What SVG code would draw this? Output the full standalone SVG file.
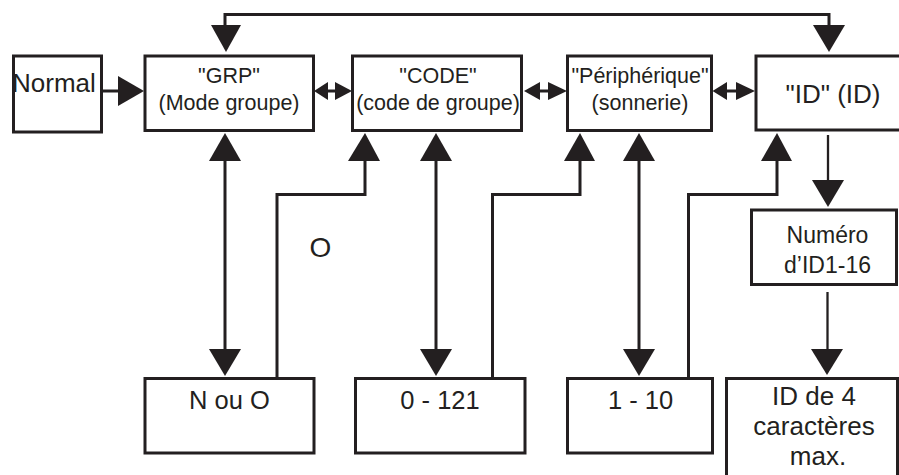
<svg xmlns="http://www.w3.org/2000/svg" width="899" height="475" viewBox="0 0 899 475">
<style>
.box{fill:#fff;stroke:#231f20;stroke-width:3}
.ln{fill:none;stroke:#231f20;stroke-width:3}
.thin{fill:none;stroke:#231f20;stroke-width:2.3}
.ah{fill:#231f20}
text{font-family:"Liberation Sans",Arial,Helvetica,sans-serif;fill:#231f20;text-anchor:middle}
.s{font-size:21.5px}
.m{font-size:25.5px}
.l{font-size:26px}
</style>
<rect width="899" height="475" fill="#fff"/>
<g id="connectors">
  <!-- Normal -> GRP -->
  <line class="ln" x1="102" y1="91" x2="120" y2="91"/>
  <polygon class="ah" points="118,76 144,91 118,106"/>
  <!-- GRP <-> CODE -->
  <line class="ln" x1="326" y1="91" x2="337" y2="91"/>
  <polygon class="ah" points="314,91 328,82 328,100"/>
  <polygon class="ah" points="352,91 335,82 335,100"/>
  <!-- CODE <-> Peripherique -->
  <line class="ln" x1="538" y1="91" x2="550" y2="91"/>
  <polygon class="ah" points="524,91 540,82 540,100"/>
  <polygon class="ah" points="567,91 548,82 548,100"/>
  <!-- Peripherique <-> ID -->
  <line class="ln" x1="725" y1="91" x2="738" y2="91"/>
  <polygon class="ah" points="712.5,91 727,82 727,100"/>
  <polygon class="ah" points="755,91 736,82 736,100"/>
  <!-- top feedback ID -> GRP / ID -->
  <polyline class="ln" points="225,27 225,14.5 829,14.5 829,27"/>
  <polygon class="ah" points="211,25 241,25 226,52"/>
  <polygon class="ah" points="813,25 845,25 829,52"/>
  <!-- GRP <-> N ou O -->
  <line class="ln" x1="225" y1="159" x2="225" y2="351"/>
  <polygon class="ah" points="225,133 241,161 209,161"/>
  <polygon class="ah" points="209,349 241,349 225,376"/>
  <!-- N ou O -> CODE (O) -->
  <polyline class="ln" points="277,377 277,194.5 365,194.5 365,159"/>
  <polygon class="ah" points="365,133 380,161 348,161"/>
  <!-- CODE <-> 0-121 -->
  <line class="ln" x1="436" y1="159" x2="436" y2="351"/>
  <polygon class="ah" points="436,133 452,161 420,161"/>
  <polygon class="ah" points="420,349 452,349 436,376"/>
  <!-- 0-121 -> Peripherique -->
  <polyline class="ln" points="492.5,377 492.5,194.5 580,194.5 580,159"/>
  <polygon class="ah" points="580,133 595,161 564,161"/>
  <!-- Peripherique <-> 1-10 -->
  <line class="ln" x1="639" y1="159" x2="639" y2="351"/>
  <polygon class="ah" points="639,133 655,161 623,161"/>
  <polygon class="ah" points="623,349 655,349 639,376"/>
  <!-- 1-10 -> ID -->
  <polyline class="ln" points="688.5,377 688.5,194.5 777,194.5 777,159"/>
  <polygon class="ah" points="777,133 792,161 761,161"/>
  <!-- ID -> Numero -->
  <line class="thin" x1="828" y1="135" x2="828" y2="182"/>
  <polygon class="ah" points="812,180 844,180 828,207"/>
  <!-- Numero -> ID de 4 -->
  <line class="thin" x1="827.5" y1="292" x2="827.5" y2="351"/>
  <polygon class="ah" points="811,349 843,349 827,375"/>
</g>
<g id="normal">
  <rect class="box" x="13.5" y="56" width="88" height="76"/>
  <text class="l" x="12" y="92" style="text-anchor:start">Normal</text>
</g>
<g id="grp">
  <rect class="box" x="145" y="56" width="168.5" height="74.5"/>
  <text class="s" x="229" y="83">"GRP"</text>
  <text class="s" x="229" y="110">(Mode groupe)</text>
</g>
<g id="code">
  <rect class="box" x="352.5" y="56" width="169" height="74.5"/>
  <text class="s" x="438" y="83">"CODE"</text>
  <text class="s" x="438" y="110">(code de groupe)</text>
</g>
<g id="peripherique">
  <rect class="box" x="567.5" y="56" width="144" height="74.5"/>
  <text class="s" x="640" y="83">"Périphérique"</text>
  <text class="s" x="640" y="110">(sonnerie)</text>
</g>
<g id="id">
  <rect class="box" x="756" y="56" width="150" height="74"/>
  <text class="l" x="833" y="103">"ID" (ID)</text>
</g>
<g id="n-ou-o">
  <rect class="box" x="145" y="378.5" width="169" height="74.5"/>
  <text class="m" x="229.5" y="409">N ou O</text>
</g>
<g id="label-o">
  <text x="320.5" y="257" style="font-size:28px">O</text>
</g>
<g id="range-0-121">
  <rect class="box" x="355.5" y="378.5" width="169.5" height="74.5"/>
  <text class="m" x="440" y="409">0 - 121</text>
</g>
<g id="range-1-10">
  <rect class="box" x="567.5" y="378.5" width="145" height="74.5"/>
  <text class="m" x="640.5" y="409">1 - 10</text>
</g>
<g id="numero">
  <rect class="box" x="751.5" y="210" width="145" height="74.5"/>
  <text class="m" x="827.5" y="243" style="font-size:23px">Numéro</text>
  <text class="m" x="827.5" y="273" style="font-size:23px">d’ID1-16</text>
</g>
<g id="id-de-4">
  <rect class="box" x="726.5" y="378.5" width="171" height="110"/>
  <text class="l" x="814" y="405">ID de 4</text>
  <text class="l" x="814" y="435">caractères</text>
  <text class="l" x="818" y="465">max.</text>
</g>
</svg>
